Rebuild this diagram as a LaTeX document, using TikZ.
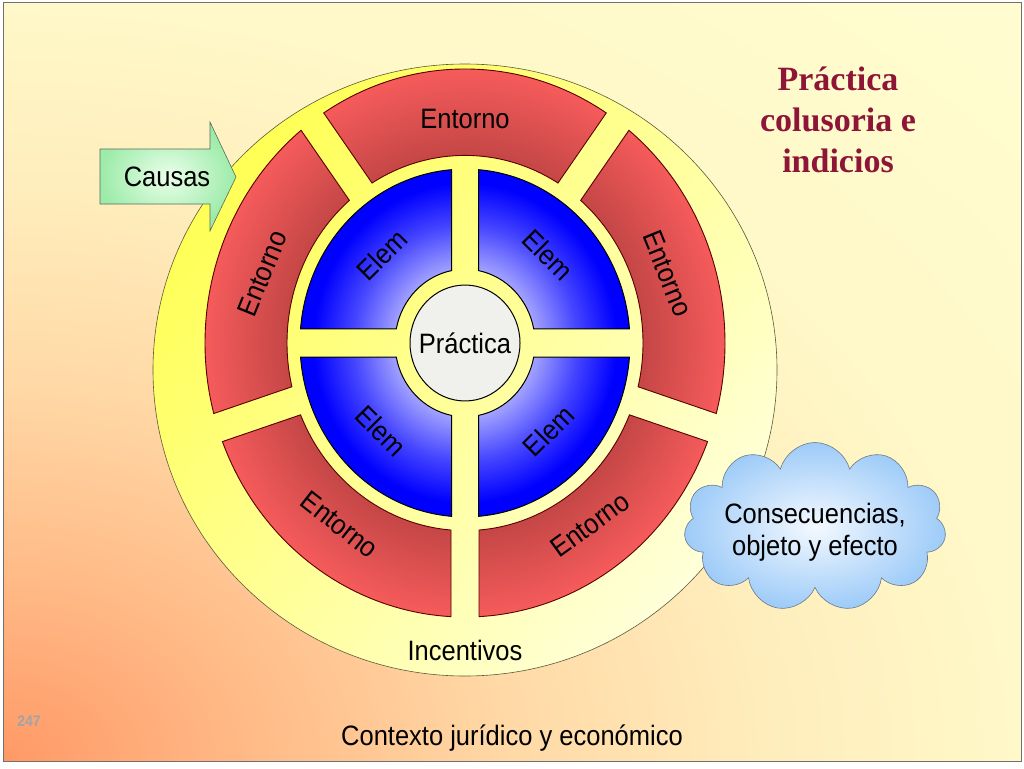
\documentclass[tikz,border=0pt]{standalone}
\usepackage{fontspec}
\setmainfont{Liberation Sans}
\newfontfamily\serifbold{Liberation Serif}
\usetikzlibrary{shapes.symbols}

\definecolor{bgA}{HTML}{FF9966}
\definecolor{bgB}{HTML}{FFBB88}
\definecolor{bgC}{HTML}{FFD9A6}
\definecolor{bgD}{HTML}{FFEDBC}
\definecolor{bgE}{HTML}{FFF8C8}
\definecolor{bgF}{HTML}{FFFDD0}
\definecolor{frameC}{HTML}{707070}
\definecolor{yelA}{HTML}{FFFF55}
\definecolor{yelM}{HTML}{FFFF7E}
\definecolor{yelB}{HTML}{FFFFDA}
\definecolor{yelLine}{HTML}{5A5A3A}
\definecolor{redL}{HTML}{F65B5B}
\definecolor{redD}{HTML}{C44646}
\definecolor{redLine}{HTML}{5A0000}
\definecolor{bluA}{HTML}{D0D0FF}
\definecolor{bluB}{HTML}{A4A4FF}
\definecolor{bluC}{HTML}{4545FF}
\definecolor{bluD}{HTML}{0000FF}
\definecolor{pracF}{HTML}{F0F0EC}
\definecolor{grnA}{HTML}{EAFFEA}
\definecolor{grnB}{HTML}{9CEBA8}
\definecolor{grnLine}{HTML}{5A6A5A}
\definecolor{cldA}{HTML}{F4F9FF}
\definecolor{cldB}{HTML}{9DCBF8}
\definecolor{cldLine}{HTML}{6A7A8A}
\definecolor{titleC}{HTML}{8E1538}
\definecolor{numC}{HTML}{A0A4A8}

\pgfdeclareradialshading{bgshade}{\pgfpoint{0bp}{0bp}}{color(0bp)=(bgA); color(4.3bp)=(bgB); color(8.6bp)=(bgC); color(12.9bp)=(bgD); color(17.2bp)=(bgE); color(24bp)=(bgF); color(50bp)=(bgF)}
\pgfdeclareradialshading{redshade}{\pgfpoint{0bp}{0bp}}{color(0bp)=(redD); color(17bp)=(redD); color(25bp)=(redL); color(50bp)=(redL)}
\pgfdeclareradialshading{blueshade}{\pgfpoint{0bp}{0bp}}{color(0bp)=(bluA); color(10.5bp)=(bluB); color(17bp)=(bluC); color(23bp)=(bluD); color(50bp)=(bluD)}
\pgfdeclareradialshading{cloudshade}{\pgfpoint{0bp}{0bp}}{color(0bp)=(cldA); color(25bp)=(cldB); color(50bp)=(cldB)}

\newcommand\redseg[1]{({#1-32.913}:260) arc[start angle={#1-32.913}, end angle={#1+32.913}, radius=260] -- ({#1+31.489}:178) arc[start angle={#1+31.489}, end angle={#1-31.489}, radius=178] -- cycle }
\newcommand\bluq[1]{({#1+4.693}:165) arc[start angle={#1+4.693}, end angle={#1+85.307}, radius=165] -- ({#1+78.88}:70) arc[start angle={#1+78.88}, end angle={#1+11.12}, radius=70] -- cycle }
\newcommand\stretchtxt[1]{\scalebox{1}[1.1]{#1}}

\begin{document}
\begin{tikzpicture}[x=1pt,y=1pt,
  lbl/.style={font=\fontsize{25.5}{31}\selectfont, text=black, inner sep=0pt},
  redpart/.style={draw=redLine, line width=0.9pt},
  bluepart/.style={draw=black, line width=1pt}]
\useasboundingbox (0,0) rectangle (1024,-768);
\fill[white] (0,0) rectangle (1024,-768);
\begin{scope}
  \clip (3,-3) rectangle (1021,-761);
  \shade[shading=bgshade] (3,-761) ellipse [x radius=1476, y radius=1099];
\end{scope}
\draw[frameC, line width=1pt] (3,-3) rectangle (1021,-761);

% yellow disc
\shadedraw[draw=yelLine, line width=0.6pt, top color=yelA, middle color=yelM, bottom color=yelB, shading angle=50] (465,-370) ellipse [x radius=312, y radius=306];

% Causas arrow
\shadedraw[draw=grnLine, line width=0.6pt, inner color=grnA, outer color=grnB] (100,-149) -- (210,-149) -- (210,-122) -- (236,-177) -- (210,-231) -- (210,-204) -- (100,-204) -- cycle;
\node[lbl] (causas) at (167,-177) {\stretchtxt{Causas}};

\begin{scope}[shift={(465,-343)}, yscale=1.054]
  \begin{scope}
    \clip \redseg{90} \redseg{162} \redseg{234} \redseg{306} \redseg{18};
    \shade[shading=redshade] (0,0) circle (260);
  \end{scope}
  \draw[redpart] \redseg{90} \redseg{162} \redseg{234} \redseg{306} \redseg{18};
  \begin{scope}
    \clip \bluq{0} \bluq{90} \bluq{180} \bluq{270};
    \shade[shading=blueshade] (0,0) circle (165);
  \end{scope}
  \draw[bluepart] \bluq{0} \bluq{90} \bluq{180} \bluq{270};
  \filldraw[fill=pracF, draw=black, line width=1pt] (0,0) circle (55);
  \node[lbl] (prac) at (0,0) {\stretchtxt{Práctica}};
  \node[lbl] (e1) at (90:213) {\stretchtxt{Entorno}};
  \node[lbl, rotate=68] (e2) at (162:213) {\stretchtxt{Entorno}};
  \node[lbl, rotate=-38] (e3) at (234:213) {\stretchtxt{Entorno}};
  \node[lbl, rotate=36] (e4) at (306:213) {\stretchtxt{Entorno}};
  \node[lbl, rotate=-68] (e5) at (18:213) {\stretchtxt{Entorno}};
  \node[lbl, rotate=45] (m1) at (135:118) {\stretchtxt{Elem}};
  \node[lbl, rotate=-45] (m2) at (45:118) {\stretchtxt{Elem}};
  \node[lbl, rotate=-45] (m3) at (225:118) {\stretchtxt{Elem}};
  \node[lbl, rotate=45] (m4) at (315:118) {\stretchtxt{Elem}};
\end{scope}

\node[lbl] (inc) at (465,-650) {\stretchtxt{Incentivos}};
\node[lbl] (ctx) at (512,-738) {\stretchtxt{Contexto jurídico y económico}};
\node[font=\serifbold\bfseries\fontsize{34}{41}\selectfont, text=titleC, align=center, inner sep=0pt] (title) at (838,-120) {Práctica\\colusoria e\\indicios};
\node[font=\bfseries\fontsize{14}{14}\selectfont, text=numC, inner sep=0pt] (pg) at (29,-721) {\stretchtxt{247}};

\node[cloud, cloud puffs=11, cloud ignores aspect, minimum width=262pt, minimum height=169pt, draw=cldLine, line width=0.6pt, shade, shading=cloudshade, inner sep=0pt] (cloudshape) at (815,-527) {};
\node[align=center, inner sep=0pt, font=\fontsize{25.5}{32}\selectfont] (cons) at (815,-532) {\stretchtxt{Consecuencias,}\\\stretchtxt{objeto y efecto}};
\end{tikzpicture}
\end{document}
